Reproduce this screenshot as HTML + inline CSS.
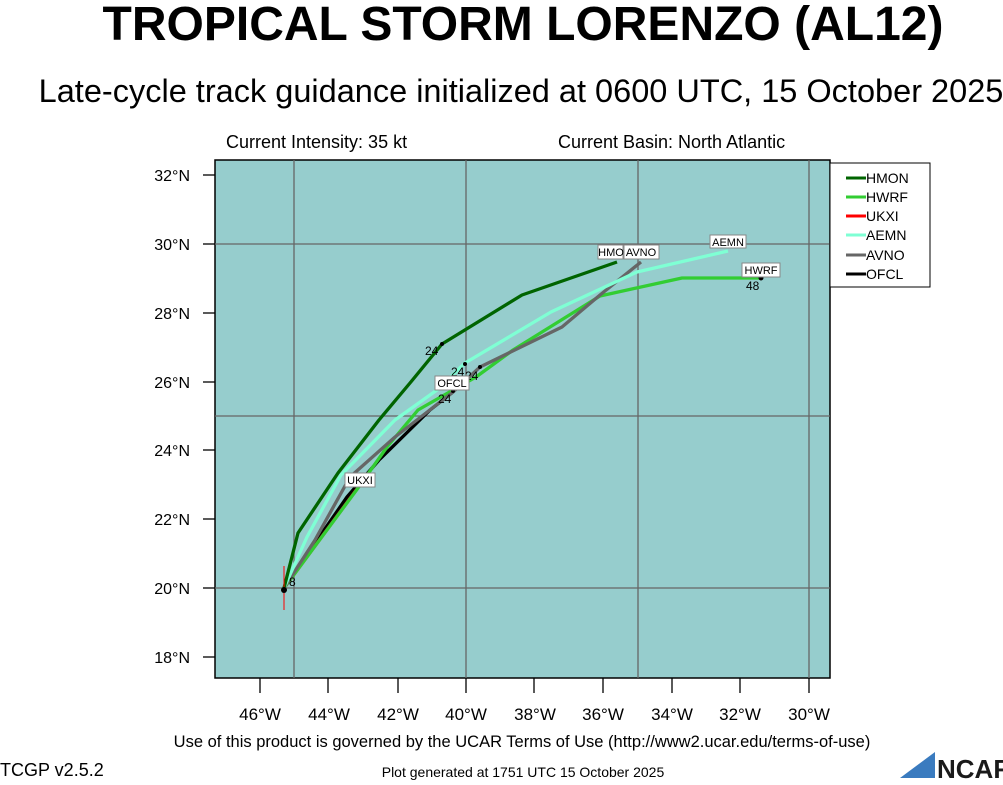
<!DOCTYPE html>
<html><head><style>
body{margin:0;background:#fff;width:1003px;height:780px;overflow:hidden;font-family:"Liberation Sans",sans-serif}
</style></head><body>
<svg width="1003" height="780" xmlns="http://www.w3.org/2000/svg" font-family="Liberation Sans, sans-serif">
<text x="523" y="40" font-size="48" font-weight="bold" text-anchor="middle">TROPICAL STORM LORENZO (AL12)</text>
<text x="521" y="102" font-size="32.5" text-anchor="middle">Late-cycle track guidance initialized at 0600 UTC, 15 October 2025</text>
<text x="226" y="148" font-size="18">Current Intensity: 35 kt</text>
<text x="558" y="148" font-size="18">Current Basin: North Atlantic</text>
<rect x="215" y="160" width="615" height="518" fill="#96cdcd" stroke="#000" stroke-width="1.5"/>
<g stroke="#666" stroke-width="1.3">
<line x1="294" y1="160" x2="294" y2="678"/><line x1="466" y1="160" x2="466" y2="678"/><line x1="638" y1="160" x2="638" y2="678"/><line x1="809" y1="160" x2="809" y2="678"/>
<line x1="215" y1="244" x2="830" y2="244"/><line x1="215" y1="416" x2="830" y2="416"/><line x1="215" y1="588" x2="830" y2="588"/>
</g>
<g stroke="#000" stroke-width="1.3">
<line x1="203" y1="175" x2="215" y2="175"/><line x1="203" y1="244" x2="215" y2="244"/><line x1="203" y1="313" x2="215" y2="313"/><line x1="203" y1="382" x2="215" y2="382"/><line x1="203" y1="450" x2="215" y2="450"/><line x1="203" y1="519" x2="215" y2="519"/><line x1="203" y1="588" x2="215" y2="588"/><line x1="203" y1="657" x2="215" y2="657"/>
<line x1="260" y1="678" x2="260" y2="693"/><line x1="328" y1="678" x2="328" y2="693"/><line x1="398" y1="678" x2="398" y2="693"/><line x1="466" y1="678" x2="466" y2="693"/><line x1="534" y1="678" x2="534" y2="693"/><line x1="603" y1="678" x2="603" y2="693"/><line x1="672" y1="678" x2="672" y2="693"/><line x1="740" y1="678" x2="740" y2="693"/><line x1="809" y1="678" x2="809" y2="693"/>
</g>
<g font-size="16" text-anchor="end">
<text x="190" y="181">32°N</text><text x="190" y="250">30°N</text><text x="190" y="319">28°N</text><text x="190" y="388">26°N</text><text x="190" y="456">24°N</text><text x="190" y="525">22°N</text><text x="190" y="594">20°N</text><text x="190" y="663">18°N</text>
</g>
<g font-size="17" text-anchor="middle">
<text x="260" y="720">46°W</text><text x="329" y="720">44°W</text><text x="398" y="720">42°W</text><text x="466" y="720">40°W</text><text x="535" y="720">38°W</text><text x="603" y="720">36°W</text><text x="672" y="720">34°W</text><text x="740" y="720">32°W</text><text x="809" y="720">30°W</text>
</g>
<g fill="none" stroke-width="3.3" stroke-linejoin="round">
<polyline stroke="#000" points="284,588 347,497 379,460 430,410 453,392"/>
<polyline stroke="#ff0000" points="284,588 357,489"/>
<polyline stroke="#32cd32" points="284,588 358,488 387,447 418,410 453,390 476,377 513,350 600,296 682,278 761,278"/>
<polyline stroke="#666" points="284,588 315,540 350,477 395,437 453,392 480,367 562,327 600,295 641,262"/>
<polyline stroke="#7fffd4" points="284,588 307,537 341,475 395,420 437,390 465,363 551,312 637,272 728,251"/>
<polyline stroke="#006400" points="284,588 298,533 338,473 379,420 410,383 442,344 522,295 617,262"/>
</g>
<line x1="284" y1="566" x2="284" y2="610" stroke="#f00" stroke-width="1"/>
<g fill="#000"><circle cx="284" cy="590" r="3"/><circle cx="442" cy="344" r="2"/><circle cx="480" cy="367" r="2"/><circle cx="761" cy="278" r="2.5"/><circle cx="465" cy="364" r="2"/><circle cx="453" cy="391" r="2"/></g>
<g font-size="12">
<text x="425" y="355">24</text><text x="451" y="376">24</text><text x="465" y="380">24</text><text x="438" y="403">24</text><text x="746" y="290">48</text><text x="289" y="586">8</text>
</g>
<g font-size="11" text-anchor="middle">
<rect x="598" y="245" width="25" height="14" fill="#fff" stroke="#888"/><text x="611" y="256">HMO</text>
<rect x="624" y="245" width="35" height="14" fill="#fff" stroke="#888"/><text x="641" y="256">AVNO</text>
<rect x="710" y="235" width="36" height="13" fill="#fff" stroke="#888"/><text x="728" y="246">AEMN</text>
<rect x="742" y="263" width="38" height="14" fill="#fff" stroke="#888"/><text x="761" y="274">HWRF</text>
<rect x="435" y="376" width="34" height="14" fill="#fff" stroke="#888"/><text x="452" y="387">OFCL</text>
<rect x="345" y="473" width="30" height="14" fill="#fff" stroke="#888"/><text x="360" y="484">UKXI</text>
</g>
<rect x="830" y="163" width="100" height="124" fill="#fff" stroke="#000"/>
<g stroke-width="3">
<line x1="846" y1="178" x2="866" y2="178" stroke="#006400"/>
<line x1="846" y1="197" x2="866" y2="197" stroke="#32cd32"/>
<line x1="846" y1="216" x2="866" y2="216" stroke="#f00"/>
<line x1="846" y1="235" x2="866" y2="235" stroke="#7fffd4"/>
<line x1="846" y1="255" x2="866" y2="255" stroke="#666"/>
<line x1="846" y1="274" x2="866" y2="274" stroke="#000"/>
</g>
<g font-size="14">
<text x="866" y="183">HMON</text><text x="866" y="202">HWRF</text><text x="866" y="221">UKXI</text><text x="866" y="240">AEMN</text><text x="866" y="260">AVNO</text><text x="866" y="279">OFCL</text>
</g>
<text x="522" y="747" font-size="16.5" text-anchor="middle">Use of this product is governed by the UCAR Terms of Use (http://www2.ucar.edu/terms-of-use)</text>
<text x="0" y="776" font-size="18">TCGP v2.5.2</text>
<text x="523" y="777" font-size="14" text-anchor="middle">Plot generated at 1751 UTC   15 October 2025</text>
<path d="M900 778 L935 752 L935 778 Z" fill="#3a7bbf"/>
<text x="937" y="778" font-size="26" font-weight="bold" fill="#1a1a1a">NCAR</text>
</svg>
</body></html>
